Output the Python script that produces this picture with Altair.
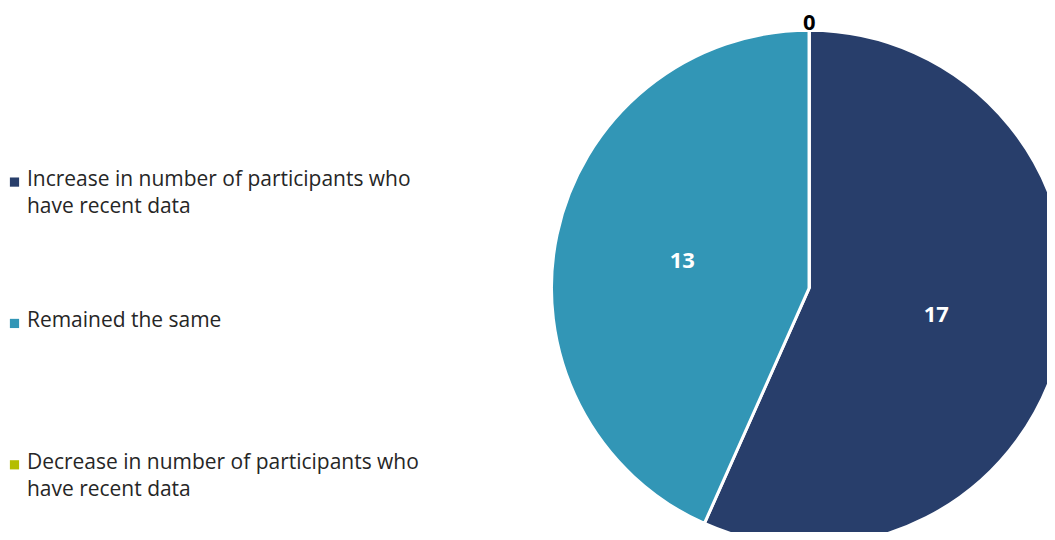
import altair as alt
import pandas as pd

categories = [
    "Increase in number of participants who have recent data",
    "Remained the same",
    "Decrease in number of participants who have recent data",
]
values = [17, 13, 0]
colors = ["#283E6B", "#3296B6", "#B4BD00"]

df = pd.DataFrame({"category": categories, "value": values, "order": [0, 1, 2]})

cx, cy, R = 802, 280, 258
FONT = "Open Sans"

color_scale = alt.Scale(domain=categories, range=colors)

base = alt.Chart(df).encode(
    theta=alt.Theta("value:Q", stack=True),
    order=alt.Order("order:Q"),
)

arc = base.mark_arc(radius=R, stroke="white", strokeWidth=3, x=cx, y=cy).encode(
    color=alt.Color("category:N", scale=color_scale, legend=None)
)

inner = base.transform_filter("datum.value > 0").mark_text(
    radius=130, x=cx, y=cy, font=FONT, fontSize=22, fontWeight="bold", color="white"
).encode(text="value:Q")

outer = base.transform_filter("datum.value == 0").mark_text(
    radius=265, x=cx, y=cy, font=FONT, fontSize=22, fontWeight="bold", color="black"
).encode(text="value:Q")

# manual legend
leg_y = alt.Y(
    "category:N",
    sort=categories,
    scale=alt.Scale(type="point", domain=categories, range=[174, 457], padding=0),
    axis=None,
)
leg_base = alt.Chart(df).encode(y=leg_y)

leg_sym = leg_base.mark_square(size=85, opacity=1).encode(
    x=alt.value(6.5),
    color=alt.Color("category:N", scale=color_scale, legend=None),
)

leg_txt = leg_base.transform_calculate(
    lbl="replace(datum.category, ' who ', ' who|')"
).mark_text(
    align="left", baseline="alphabetic", dy=4, font=FONT, fontSize=21,
    lineHeight=27, lineBreak="|", color="#262626",
).encode(x=alt.value(19), text="lbl:N")

chart = alt.layer(arc, inner, outer, leg_sym, leg_txt).properties(
    width=1040, height=524, autosize=alt.AutoSizeParams(type="none"), padding=0
).configure_view(stroke=None)

chart.save("out.html", embed_options={"renderer": "svg", "actions": False})
